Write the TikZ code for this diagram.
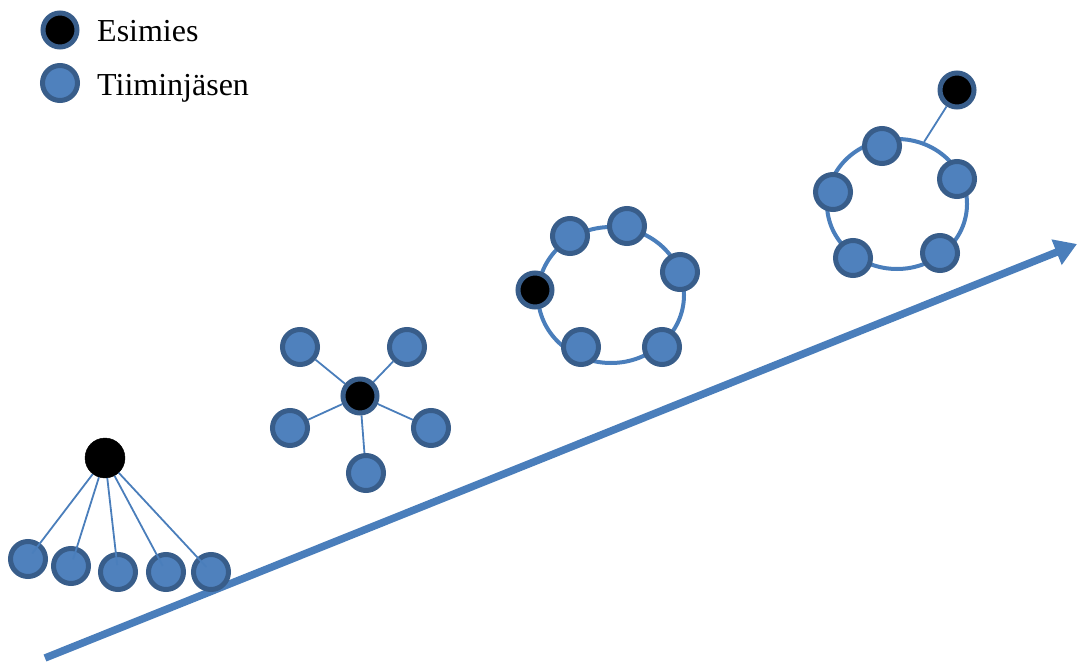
\documentclass[tikz,border=0pt]{standalone}
\usepackage{fontspec}
\setmainfont{Liberation Serif}
\usetikzlibrary{arrows.meta,backgrounds}
\definecolor{memfill}{HTML}{4F81BD}
\definecolor{memedge}{HTML}{385D8A}
\definecolor{linkblue}{HTML}{4A7EBB}
\tikzset{
  member/.style={circle,fill=memfill,draw=memedge,line width=5pt,minimum size=35pt,inner sep=0pt},
  leader/.style={circle,fill=black,draw=memedge,line width=5pt,minimum size=34pt,inner sep=0pt},
  topleader/.style={circle,fill=black,draw=black,minimum size=40pt,inner sep=0pt},
  link/.style={draw=linkblue,line width=1.8pt},
  ring/.style={draw=linkblue,line width=4pt},
  legendtext/.style={anchor=base west,inner sep=0pt,font=\fontsize{32}{36}\selectfont},
  growth/.style={draw=linkblue,line width=7.5pt,-{Triangle[width=26pt,length=22pt]}}
}
\begin{document}
\begin{tikzpicture}[x=1pt,y=-1pt]
\useasboundingbox (0,0) rectangle (1078,666);

% legend
\node[leader] (lgboss) at (60,30) {};
\node[member] (lgmem) at (60,83) {};
\node[legendtext] (lgboss-t) at (97,42) {Esimies};
\node[legendtext] (lgmem-t) at (97,96) {Tiiminjäsen};

% growth arrow
\coordinate (arrS) at (45,658);
\coordinate (arrE) at (1077,244);
\draw[growth] (arrS) -- (arrE);

% stage 1: hierarchy
\node[topleader] (a0) at (105,458) {};
\node[member] (a1) at (28,559) {};
\node[member] (a2) at (71,566) {};
\node[member] (a3) at (118,572) {};
\node[member] (a4) at (166,572) {};
\node[member] (a5) at (211,572) {};
\foreach \m in {a1,a2,a3,a4,a5}
  \draw[link,shorten >=7pt] (a0) -- (\m.center);

% stage 2: star
\node[leader] (b0) at (360,396) {};
\node[member] (b1) at (300,347) {};
\node[member] (b2) at (407,347) {};
\node[member] (b3) at (290,428) {};
\node[member] (b4) at (431,428) {};
\node[member] (b5) at (366,473) {};
\begin{scope}[on background layer]
  \foreach \m in {b1,b2,b3,b4,b5}
    \draw[link] (b0) -- (\m);
\end{scope}

% stage 3: circle with leader on the rim
\coordinate (c-mid) at (611,295);
\draw[ring] (c-mid) ellipse[x radius=73,y radius=68];
\node[member] (c1) at (570,236) {};
\node[member] (c2) at (627,226) {};
\node[member] (c3) at (680,272) {};
\node[leader] (c0) at (535,290) {};
\node[member] (c4) at (581,347) {};
\node[member] (c5) at (662,347) {};

% stage 4: self-directed circle, leader outside
\coordinate (d-mid) at (897,204);
\draw[ring] (d-mid) ellipse[x radius=70,y radius=65];
\coordinate (d-top) at (924,142);
\node[leader] (d0) at (957,90) {};
\draw[link] (d0) -- (d-top);
\node[member] (d1) at (882,146) {};
\node[member] (d2) at (833,192) {};
\node[member] (d3) at (957,179) {};
\node[member] (d4) at (853,258) {};
\node[member] (d5) at (940,253) {};
\end{tikzpicture}
\end{document}
